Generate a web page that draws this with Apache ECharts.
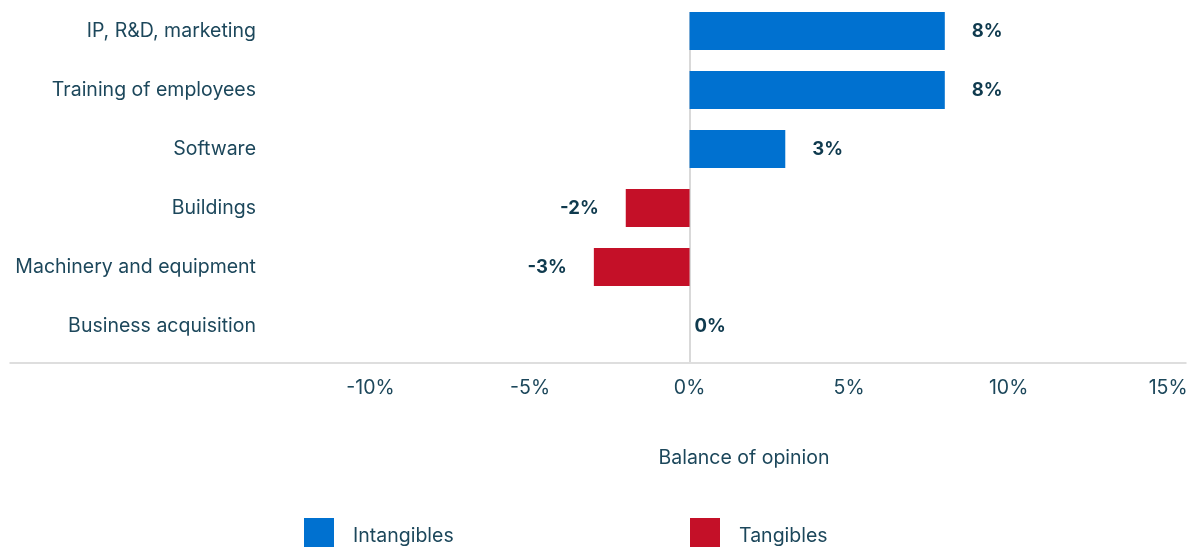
<!DOCTYPE html>
<html>
<head>
<meta charset="utf-8">
<style>
  html, body { margin: 0; padding: 0; background: #ffffff; }
  #chart { width: 1199px; height: 547px; }
</style>
<script src="https://cdn.jsdelivr.net/npm/echarts@6/dist/echarts.min.js"></script>
</head>
<body>
<div id="chart"></div>
<script>
// Investment categories, top to bottom
const categories = [
  'IP, R&D, marketing',
  'Training of employees',
  'Software',
  'Buildings',
  'Machinery and equipment',
  'Business acquisition'
];
// Balance of opinion (%) per category; '-' where the category belongs to the other group
const intangibles = [8, 8, 3, '-', '-', '-'];
const tangibles = ['-', '-', '-', -2, -3, 0];
// Value-axis tick labels
const tickValues = [-10, -5, 0, 5, 10, 15];

const FONT = 'Inter, "Noto Sans", sans-serif';
const TEXT = '#1c475b';
const LABEL = '#0f3a4e';
const BLUE = '#0071d0';
const RED = '#c41028';
const TEXT_SIZE = 19.5;

function withLabels(values) {
  return values.map(function (v) {
    if (v === '-') return v;
    return {
      value: v,
      label: {
        position: v < 0 ? 'left' : 'right',
        distance: v === 0 ? 5 : 27
      }
    };
  });
}

const labelStyle = {
  show: true,
  formatter: function (p) { return p.value + '%'; },
  fontFamily: FONT,
  fontSize: 18.5,
  fontWeight: 'bold',
  color: LABEL,
  padding: [6, 0, 0, 0]
};

// Legend entry text, nudged down to sit level with the swatch centre
const legendText = {
  fontFamily: FONT,
  fontSize: TEXT_SIZE,
  color: TEXT,
  rich: {
    t: { fontFamily: FONT, fontSize: TEXT_SIZE, color: TEXT, padding: [7, 0, 0, 14] }
  }
};

const chart = echarts.init(document.getElementById('chart'), null, { renderer: 'canvas' });

chart.setOption({
  animation: false,
  backgroundColor: '#ffffff',
  textStyle: { fontFamily: FONT },
  grid: { left: 10, right: 13, top: 1.5, bottom: 191.5, containLabel: false },
  xAxis: {
    type: 'value',
    min: -21.3,
    max: 15.56,
    offset: 7,
    axisLine: { show: true, lineStyle: { color: '#d4d4d4', width: 1.5 } },
    axisTick: { show: false },
    splitLine: { show: false },
    axisLabel: {
      customValues: tickValues,
      formatter: function (v) { return v + '%'; },
      fontFamily: FONT,
      fontSize: TEXT_SIZE,
      color: TEXT,
      margin: 16
    }
  },
  yAxis: {
    type: 'category',
    data: categories,
    inverse: true,
    offset: -246,
    axisLine: { show: false },
    axisTick: { show: false },
    splitLine: { show: false },
    axisLabel: {
      fontFamily: FONT,
      fontSize: TEXT_SIZE,
      color: TEXT,
      margin: 0,
      padding: [7, 0, 0, 0]
    }
  },
  legend: [
    {
      data: ['Intangibles'],
      left: 304, top: 518, padding: 0,
      icon: 'rect', itemWidth: 30, itemHeight: 30,
      formatter: '{t|{name}}',
      textStyle: legendText,
      selectedMode: false
    },
    {
      data: ['Tangibles'],
      left: 690, top: 518, padding: 0,
      icon: 'rect', itemWidth: 30, itemHeight: 30,
      formatter: '{t|{name}}',
      textStyle: legendText,
      selectedMode: false
    }
  ],
  graphic: [
    {
      type: 'text',
      x: 744, y: 458,
      style: {
        text: 'Balance of opinion',
        fontFamily: FONT,
        fontSize: TEXT_SIZE,
        fill: TEXT,
        align: 'center',
        verticalAlign: 'middle'
      }
    }
  ],
  series: [
    {
      name: 'Intangibles',
      type: 'bar',
      data: withLabels(intangibles),
      barWidth: 38,
      barGap: '-100%',
      itemStyle: { color: BLUE },
      label: labelStyle,
      z: 3,
      markLine: {
        silent: true,
        symbol: 'none',
        label: { show: false },
        lineStyle: { color: '#cccccc', width: 1.5, type: 'solid' },
        data: [[{ xAxis: 0, y: 12 }, { xAxis: 0, y: 362 }]],
        z: 2
      }
    },
    {
      name: 'Tangibles',
      type: 'bar',
      data: withLabels(tangibles),
      barWidth: 38,
      barGap: '-100%',
      itemStyle: { color: RED },
      label: labelStyle,
      z: 3
    }
  ]
});
</script>
</body>
</html>
